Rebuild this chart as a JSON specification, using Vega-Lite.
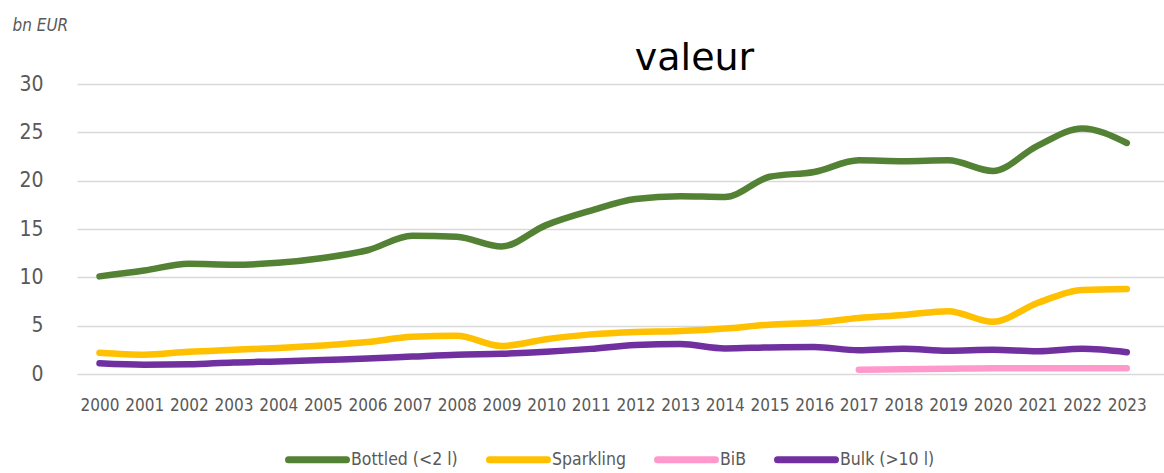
{
  "$schema": "https://vega.github.io/schema/vega-lite/v6.json",
  "autosize": "none",
  "width": 1087,
  "height": 290,
  "padding": {"left": 77, "top": 84, "right": 0, "bottom": 99},
  "background": "white",
  "title": {
    "text": "valeur",
    "font": "DejaVu Sans",
    "fontSize": 38,
    "fontWeight": "normal",
    "color": "#000000",
    "anchor": "middle",
    "frame": "group",
    "baseline": "alphabetic",
    "offset": -92,
    "dx": 74
  },
  "config": {
    "view": {"stroke": null},
    "axis": {"labelFont": "DejaVu Sans Condensed, Liberation Sans, sans-serif", "labelColor": "#595959", "titleFont": "DejaVu Sans Condensed, Liberation Sans, sans-serif"}
  },
  "data": {
    "values": [
      {"year": 2000, "series": "Bottled (<2 l)", "value": 10.1},
      {"year": 2001, "series": "Bottled (<2 l)", "value": 10.7},
      {"year": 2002, "series": "Bottled (<2 l)", "value": 11.4},
      {"year": 2003, "series": "Bottled (<2 l)", "value": 11.3},
      {"year": 2004, "series": "Bottled (<2 l)", "value": 11.5},
      {"year": 2005, "series": "Bottled (<2 l)", "value": 12.0},
      {"year": 2006, "series": "Bottled (<2 l)", "value": 12.8},
      {"year": 2007, "series": "Bottled (<2 l)", "value": 14.3},
      {"year": 2008, "series": "Bottled (<2 l)", "value": 14.2},
      {"year": 2009, "series": "Bottled (<2 l)", "value": 13.2},
      {"year": 2010, "series": "Bottled (<2 l)", "value": 15.4},
      {"year": 2011, "series": "Bottled (<2 l)", "value": 16.9},
      {"year": 2012, "series": "Bottled (<2 l)", "value": 18.1},
      {"year": 2013, "series": "Bottled (<2 l)", "value": 18.4},
      {"year": 2014, "series": "Bottled (<2 l)", "value": 18.3},
      {"year": 2015, "series": "Bottled (<2 l)", "value": 20.4},
      {"year": 2016, "series": "Bottled (<2 l)", "value": 20.9},
      {"year": 2017, "series": "Bottled (<2 l)", "value": 22.1},
      {"year": 2018, "series": "Bottled (<2 l)", "value": 22.0},
      {"year": 2019, "series": "Bottled (<2 l)", "value": 22.1},
      {"year": 2020, "series": "Bottled (<2 l)", "value": 21.0},
      {"year": 2021, "series": "Bottled (<2 l)", "value": 23.6},
      {"year": 2022, "series": "Bottled (<2 l)", "value": 25.4},
      {"year": 2023, "series": "Bottled (<2 l)", "value": 23.9},
      {"year": 2000, "series": "Sparkling", "value": 2.2},
      {"year": 2001, "series": "Sparkling", "value": 2.0},
      {"year": 2002, "series": "Sparkling", "value": 2.3},
      {"year": 2003, "series": "Sparkling", "value": 2.5},
      {"year": 2004, "series": "Sparkling", "value": 2.7},
      {"year": 2005, "series": "Sparkling", "value": 2.95},
      {"year": 2006, "series": "Sparkling", "value": 3.3},
      {"year": 2007, "series": "Sparkling", "value": 3.85},
      {"year": 2008, "series": "Sparkling", "value": 3.95},
      {"year": 2009, "series": "Sparkling", "value": 2.9},
      {"year": 2010, "series": "Sparkling", "value": 3.6},
      {"year": 2011, "series": "Sparkling", "value": 4.1},
      {"year": 2012, "series": "Sparkling", "value": 4.35},
      {"year": 2013, "series": "Sparkling", "value": 4.45},
      {"year": 2014, "series": "Sparkling", "value": 4.7},
      {"year": 2015, "series": "Sparkling", "value": 5.1},
      {"year": 2016, "series": "Sparkling", "value": 5.3},
      {"year": 2017, "series": "Sparkling", "value": 5.8},
      {"year": 2018, "series": "Sparkling", "value": 6.1},
      {"year": 2019, "series": "Sparkling", "value": 6.5},
      {"year": 2020, "series": "Sparkling", "value": 5.4},
      {"year": 2021, "series": "Sparkling", "value": 7.35},
      {"year": 2022, "series": "Sparkling", "value": 8.7},
      {"year": 2023, "series": "Sparkling", "value": 8.8},
      {"year": 2017, "series": "BiB", "value": 0.45},
      {"year": 2018, "series": "BiB", "value": 0.5},
      {"year": 2019, "series": "BiB", "value": 0.55},
      {"year": 2020, "series": "BiB", "value": 0.6},
      {"year": 2021, "series": "BiB", "value": 0.6},
      {"year": 2022, "series": "BiB", "value": 0.6},
      {"year": 2023, "series": "BiB", "value": 0.6},
      {"year": 2000, "series": "Bulk (>10 l)", "value": 1.1},
      {"year": 2001, "series": "Bulk (>10 l)", "value": 0.95},
      {"year": 2002, "series": "Bulk (>10 l)", "value": 1.0},
      {"year": 2003, "series": "Bulk (>10 l)", "value": 1.2},
      {"year": 2004, "series": "Bulk (>10 l)", "value": 1.3},
      {"year": 2005, "series": "Bulk (>10 l)", "value": 1.45},
      {"year": 2006, "series": "Bulk (>10 l)", "value": 1.6},
      {"year": 2007, "series": "Bulk (>10 l)", "value": 1.8},
      {"year": 2008, "series": "Bulk (>10 l)", "value": 2.0},
      {"year": 2009, "series": "Bulk (>10 l)", "value": 2.1},
      {"year": 2010, "series": "Bulk (>10 l)", "value": 2.3},
      {"year": 2011, "series": "Bulk (>10 l)", "value": 2.6},
      {"year": 2012, "series": "Bulk (>10 l)", "value": 3.0},
      {"year": 2013, "series": "Bulk (>10 l)", "value": 3.1},
      {"year": 2014, "series": "Bulk (>10 l)", "value": 2.65},
      {"year": 2015, "series": "Bulk (>10 l)", "value": 2.75},
      {"year": 2016, "series": "Bulk (>10 l)", "value": 2.8},
      {"year": 2017, "series": "Bulk (>10 l)", "value": 2.45},
      {"year": 2018, "series": "Bulk (>10 l)", "value": 2.6},
      {"year": 2019, "series": "Bulk (>10 l)", "value": 2.4},
      {"year": 2020, "series": "Bulk (>10 l)", "value": 2.5},
      {"year": 2021, "series": "Bulk (>10 l)", "value": 2.35},
      {"year": 2022, "series": "Bulk (>10 l)", "value": 2.6},
      {"year": 2023, "series": "Bulk (>10 l)", "value": 2.25}
    ]
  },
  "mark": {"type": "line", "strokeWidth": 6.5, "strokeCap": "round", "strokeJoin": "round", "interpolate": "monotone"},
  "encoding": {
    "x": {
      "field": "year",
      "type": "quantitative",
      "scale": {"domain": [1999.496, 2023.833], "nice": false, "zero": false},
      "axis": {
        "title": null,
        "values": [2000,2001,2002,2003,2004,2005,2006,2007,2008,2009,2010,2011,2012,2013,2014,2015,2016,2017,2018,2019,2020,2021,2022,2023],
        "format": "d",
        "grid": false,
        "domain": false,
        "ticks": false,
        "labelFontSize": 17,
        "labelPadding": 23,
        "labelOverlap": false,
        "labelFlush": false
      }
    },
    "y": {
      "field": "value",
      "type": "quantitative",
      "scale": {"domain": [0, 30], "nice": false},
      "axis": {
        "title": "bn EUR",
        "titleAngle": 0,
        "titleAlign": "left",
        "titleBaseline": "alphabetic",
        "titleX": -65,
        "titleY": -54,
        "titleFontStyle": "italic",
        "titleFontWeight": "normal",
        "titleFontSize": 17,
        "titleColor": "#595959",
        "values": [0,5,10,15,20,25,30],
        "grid": true,
        "gridColor": "#d9d9d9",
        "gridWidth": 1.5,
        "domain": false,
        "ticks": false,
        "labelFontSize": 21,
        "labelPadding": 34
      }
    },
    "color": {
      "field": "series",
      "type": "nominal",
      "scale": {
        "domain": ["Bottled (<2 l)", "Sparkling", "BiB", "Bulk (>10 l)"],
        "range": ["#548235", "#FFC000", "#FF99CC", "#7030A0"]
      },
      "legend": {
        "title": null,
        "orient": "none",
        "direction": "horizontal",
        "legendX": 208,
        "legendY": 343,
        "padding": 0,
        "symbolType": "stroke",
        "symbolSize": 3364,
        "symbolStrokeWidth": 7,
        "labelFont": "DejaVu Sans Condensed, Liberation Sans, sans-serif",
        "labelFontSize": 17.5,
        "labelColor": "#595959",
        "labelOffset": 1,
        "columnPadding": 17,
        "labelLimit": 300,
        "encode": {"symbols": {"update": {"strokeCap": {"value": "round"}}}}
      }
    }
  }
}
